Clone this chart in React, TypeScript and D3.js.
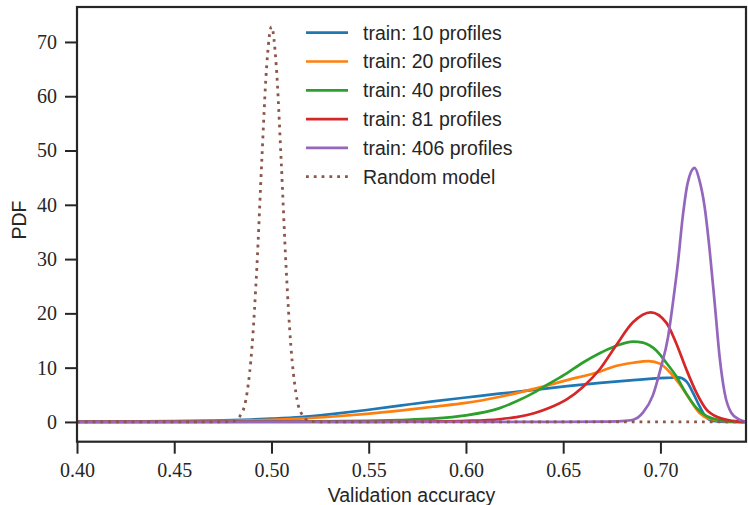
import React, { useEffect, useRef } from 'react';
import * as d3 from 'd3';

// [validation accuracy, pdf]
const train10 = [
  [0.4, 0.05], [0.43, 0.1], [0.45, 0.15], [0.47, 0.25], [0.49, 0.45], [0.5, 0.6],
  [0.515, 0.9], [0.532, 1.5], [0.549, 2.2], [0.566, 3.0], [0.583, 3.8], [0.6, 4.5],
  [0.617, 5.2], [0.635, 5.9], [0.652, 6.6], [0.669, 7.2], [0.686, 7.7], [0.703, 8.1],
  [0.709, 8.2], [0.7133, 7.5], [0.7167, 5.4], [0.7201, 2.9], [0.7236, 0.8],
  [0.727, 0.2], [0.734, 0], [0.744, 0],
];
const train20 = [
  [0.4, 0], [0.45, 0.05], [0.48, 0.2], [0.5, 0.4], [0.515, 0.6], [0.532, 1.0],
  [0.549, 1.5], [0.566, 2.1], [0.583, 2.8], [0.6, 3.5], [0.617, 4.6], [0.635, 6.1],
  [0.652, 7.7], [0.669, 9.3], [0.677, 10.3], [0.686, 10.9], [0.694, 11.2], [0.7, 10.7],
  [0.705, 9.1], [0.71, 6.9], [0.715, 4.2], [0.72, 1.7], [0.725, 0.6], [0.732, 0.2],
  [0.741, 0], [0.744, 0],
];
const train40 = [
  [0.4, 0], [0.5, 0.05], [0.55, 0.2], [0.566, 0.35], [0.583, 0.6], [0.6, 1.2],
  [0.617, 2.5], [0.626, 3.8], [0.635, 5.4], [0.643, 7.1], [0.652, 9.0], [0.66, 10.9],
  [0.669, 12.7], [0.677, 14.0], [0.686, 14.8], [0.691, 14.6], [0.698, 13.1],
  [0.703, 10.9], [0.708, 8.5], [0.713, 5.4], [0.7185, 2.6], [0.7236, 1.1],
  [0.73, 0.37], [0.737, 0.07], [0.744, 0],
];
const train81 = [
  [0.4, 0], [0.55, 0], [0.58, 0.08], [0.6, 0.2], [0.617, 0.5], [0.626, 0.9],
  [0.635, 1.6], [0.643, 2.6], [0.652, 4.2], [0.66, 6.4], [0.669, 9.8], [0.677, 14.0],
  [0.686, 18.4], [0.695, 20.2], [0.703, 18.3], [0.708, 14.6], [0.7133, 9.7],
  [0.7185, 5.4], [0.7236, 2.3], [0.73, 0.8], [0.737, 0.2], [0.744, 0],
];
const train406 = [
  [0.4, 0], [0.65, 0], [0.67, 0.05], [0.68, 0.15], [0.686, 0.4], [0.691, 1.7],
  [0.696, 4.8], [0.7, 9.7], [0.704, 15.8], [0.7064, 21.9], [0.709, 29.3],
  [0.7115, 37.9], [0.714, 44.0], [0.7176, 46.8], [0.72, 44.6], [0.7227, 39.7],
  [0.7253, 31.7], [0.7279, 21.9], [0.7304, 12.1], [0.733, 5.4], [0.7364, 1.7],
  [0.7407, 0.4], [0.744, 0],
];
const randomModel = [
  [0.4, 0], [0.47, 0], [0.48, 0.1], [0.485, 1.8], [0.4875, 5.5], [0.49, 13.9],
  [0.4925, 28.6], [0.495, 48.0], [0.4975, 65.4], [0.5, 72.8], [0.5025, 65.4],
  [0.505, 48.0], [0.5075, 28.6], [0.51, 13.9], [0.5125, 5.5], [0.515, 1.8],
  [0.52, 0.1], [0.53, 0], [0.744, 0],
];

const seriesNames = [
  'train: 10 profiles',
  'train: 20 profiles',
  'train: 40 profiles',
  'train: 81 profiles',
  'train: 406 profiles',
  'Random model',
];
const seriesData = [train10, train20, train40, train81, train406, randomModel];
const colors = ['#1f77b4', '#ff7f0e', '#2ca02c', '#d62728', '#9467bd', '#8c564b'];

const xTicks = [0.4, 0.45, 0.5, 0.55, 0.6, 0.65, 0.7];
const yTicks = [0, 10, 20, 30, 40, 50, 60, 70];

const App = () => {
  const svgRef = useRef(null);

  useEffect(() => {
    const W = 748, H = 505;
    const left = 77, right = 746, top = 7, bottom = 441.7;
    const ink = '#262626';
    const serif = '"Liberation Serif", "Times New Roman", serif';
    const sans = '"Liberation Sans", Arial, sans-serif';

    const svg = d3.select(svgRef.current).attr('width', W).attr('height', H);
    svg.selectAll('*').remove();

    const x = d3.scaleLinear().domain([0.4, 0.744]).range([left, right]);
    const y = d3.scaleLinear().domain([-3.64, 76.44]).range([bottom, top]);

    svg.append('defs').append('clipPath').attr('id', 'plot-clip')
      .append('rect')
      .attr('x', left).attr('y', top)
      .attr('width', right - left).attr('height', bottom - top);

    const line = d3.line()
      .x((d) => x(d[0]))
      .y((d) => y(d[1]))
      .curve(d3.curveMonotoneX);

    const plot = svg.append('g').attr('clip-path', 'url(#plot-clip)');
    seriesData.forEach((s, i) => {
      const dotted = i === 5;
      plot.append('path')
        .datum(s)
        .attr('d', line)
        .attr('fill', 'none')
        .attr('stroke', colors[i])
        .attr('stroke-width', dotted ? 2.8 : 2.7)
        .attr('stroke-linejoin', 'round')
        .attr('stroke-dasharray', dotted ? '2.8 5' : null);
    });

    // axes
    const xAxis = svg.append('g')
      .attr('transform', `translate(0,${bottom})`)
      .call(d3.axisBottom(x).tickValues(xTicks).tickSize(12).tickPadding(9).tickFormat(d3.format('.2f')));
    const yAxis = svg.append('g')
      .attr('transform', `translate(${left},0)`)
      .call(d3.axisLeft(y).tickValues(yTicks).tickSize(12).tickPadding(8).tickFormat(d3.format('d')));

    [xAxis, yAxis].forEach((g) => {
      g.select('.domain').remove();
      g.selectAll('line').attr('stroke', ink).attr('stroke-width', 2);
      g.selectAll('text')
        .attr('fill', ink)
        .style('font-family', serif)
        .style('font-size', '20px');
    });

    // spines
    svg.append('rect')
      .attr('x', left).attr('y', top)
      .attr('width', right - left).attr('height', bottom - top)
      .attr('fill', 'none')
      .attr('stroke', ink)
      .attr('stroke-width', 2.2);

    svg.append('text')
      .attr('x', (left + right) / 2)
      .attr('y', 502)
      .attr('text-anchor', 'middle')
      .attr('fill', ink)
      .style('font-family', sans)
      .style('font-size', '19.5px')
      .text('Validation accuracy');

    svg.append('text')
      .attr('transform', 'translate(26,220) rotate(-90)')
      .attr('text-anchor', 'middle')
      .attr('fill', ink)
      .style('font-family', sans)
      .style('font-size', '19.5px')
      .text('PDF');

    // legend
    const legend = svg.append('g').attr('transform', 'translate(306,32.7)');
    seriesNames.forEach((name, i) => {
      const row = legend.append('g').attr('transform', `translate(0,${i * 28.8})`);
      row.append('line')
        .attr('x1', 0).attr('x2', 42)
        .attr('stroke', colors[i])
        .attr('stroke-width', i === 5 ? 2.8 : 2.7)
        .attr('stroke-dasharray', i === 5 ? '2.8 5' : null);
      row.append('text')
        .attr('x', 57)
        .attr('dy', '0.35em')
        .attr('fill', ink)
        .style('font-family', sans)
        .style('font-size', '19.5px')
        .text(name);
    });
  }, []);

  return <svg ref={svgRef} style={{ position: 'absolute', left: 0, top: 0 }}></svg>;
};

export default App;
